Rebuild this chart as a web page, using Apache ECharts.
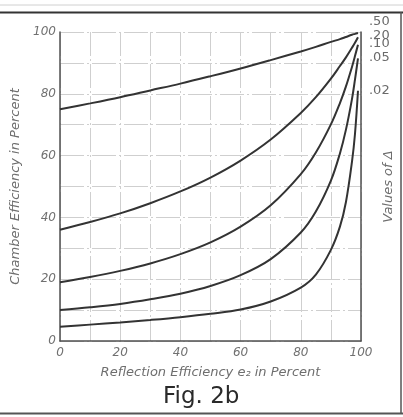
<!DOCTYPE html>
<html>
<head>
<meta charset="utf-8">
<script src="https://cdn.jsdelivr.net/npm/echarts@6/dist/echarts.min.js"></script>
<style>
html,body{margin:0;padding:0;background:#fff;}
#chart{width:403px;height:417px;}
</style>
</head>
<body>
<div id="chart"></div>
<script>
// Reflection efficiency e2 (%)
const e2 = [0, 10, 20, 30, 40, 50, 60, 70, 80, 85, 90, 93, 95, 97, 98, 99];
// Chamber efficiency (%) for each value of Delta
const d50 = [75, 76.9, 78.9, 81.1, 83.3, 85.7, 88.2, 90.9, 93.7, 95.2, 96.8, 97.7, 98.4, 99.1, 99.4, 99.7];
const d20 = [36, 38.5, 41.3, 44.6, 48.4, 52.9, 58.4, 65.2, 73.8, 78.9, 84.9, 89.0, 91.8, 94.9, 96.5, 98.3];
const d10 = [19, 20.7, 22.7, 25.1, 28.1, 31.9, 37.0, 43.9, 54.0, 61.0, 70.1, 77.0, 82.4, 88.7, 92.2, 95.9];
const d05 = [10, 10.9, 12.0, 13.5, 15.3, 17.8, 21.3, 26.5, 35.1, 41.9, 51.9, 60.7, 68.4, 78.3, 84.6, 91.5];
const d02 = [4.6, 5.3, 6.0, 6.8, 7.7, 8.8, 10.2, 12.8, 17.3, 21.5, 29.5, 37.0, 45.0, 58.0, 67.0, 81.0];
const deltaLabels = ['.50', '.20', '.10', '.05', '.02'];
const xTicks = [0, 20, 40, 60, 80, 100];
const yTicks = [0, 20, 40, 60, 80, 100];

const seriesData = [d50, d20, d10, d05, d02];
const labelOffsets = [[3, -11], [3, -2], [3, -1], [3, -1], [3, 0]];
const font = '"DejaVu Sans", sans-serif';
const gridLine = {show: true, lineStyle: {color: '#cfcfcf', width: 1, type: [24, 3, 2, 3]}};

const chart = echarts.init(document.getElementById('chart'), null, {renderer: 'canvas'});
chart.setOption({
  animation: false,
  backgroundColor: '#fff',
  grid: {left: 60, right: 36, top: 32, bottom: 76, containLabel: false},
  title: {
    text: 'Fig. 2b', left: 158, top: 381,
    textStyle: {fontFamily: font, fontSize: 23, fontWeight: 500, color: '#2a2a2a'}
  },
  xAxis: {
    type: 'value', min: 0, max: 100, interval: 10,
    name: 'Reflection Efficiency e\u2082 in Percent',
    nameLocation: 'middle', nameGap: 25,
    nameTextStyle: {fontFamily: font, fontStyle: 'italic', fontSize: 13, color: '#6e6e6e'},
    axisLine: {show: true, onZero: false, lineStyle: {color: '#505050', width: 1.5}},
    axisTick: {show: false},
    axisLabel: {
      fontFamily: font, fontStyle: 'italic', fontSize: 12, color: '#707070', margin: 6,
      formatter: v => xTicks.includes(v) ? String(v) : ''
    },
    splitLine: gridLine
  },
  yAxis: [{
    type: 'value', min: 0, max: 100, interval: 10,
    name: 'Chamber Efficiency in Percent',
    nameLocation: 'middle', nameGap: 36, nameRotate: 90,
    nameTextStyle: {fontFamily: font, fontStyle: 'italic', fontSize: 13, color: '#6e6e6e'},
    axisLine: {show: true, lineStyle: {color: '#505050', width: 1.5}},
    axisTick: {show: false},
    axisLabel: {
      fontFamily: font, fontStyle: 'italic', fontSize: 12, color: '#707070', margin: 4,
      formatter: v => yTicks.includes(v) ? String(v) : ''
    },
    splitLine: gridLine
  }, {
    type: 'value', min: 0, max: 100, position: 'right',
    name: 'Values of \u0394',
    nameLocation: 'middle', nameGap: 21, nameRotate: 90,
    nameTextStyle: {fontFamily: font, fontStyle: 'italic', fontSize: 13, color: '#6e6e6e'},
    axisLine: {show: true, lineStyle: {color: '#505050', width: 1.5}},
    axisTick: {show: false}, axisLabel: {show: false}, splitLine: {show: false}
  }],
  graphic: [
    {type: 'line', shape: {x1: 0, y1: 5, x2: 403, y2: 5}, style: {stroke: '#d0d0d0', lineWidth: 1}},
    {type: 'line', shape: {x1: 0, y1: 12.5, x2: 403, y2: 12.5}, style: {stroke: '#333', lineWidth: 2}},
    {type: 'line', shape: {x1: 401, y1: 12, x2: 401, y2: 414}, style: {stroke: '#555', lineWidth: 1.5}},
    {type: 'line', shape: {x1: 0, y1: 413.5, x2: 403, y2: 413.5}, style: {stroke: '#555', lineWidth: 2}}
  ],
  series: seriesData.map((vals, i) => ({
    type: 'line',
    data: e2.map((x, j) => [x, vals[j]]),
    smooth: 0.35,
    showSymbol: false,
    lineStyle: {color: '#333', width: 2},
    endLabel: {
      show: true, formatter: deltaLabels[i], offset: labelOffsets[i],
      fontFamily: font, fontSize: 13, color: '#6a6a6a'
    },
    z: 3
  }))
});
</script>
</body>
</html>
